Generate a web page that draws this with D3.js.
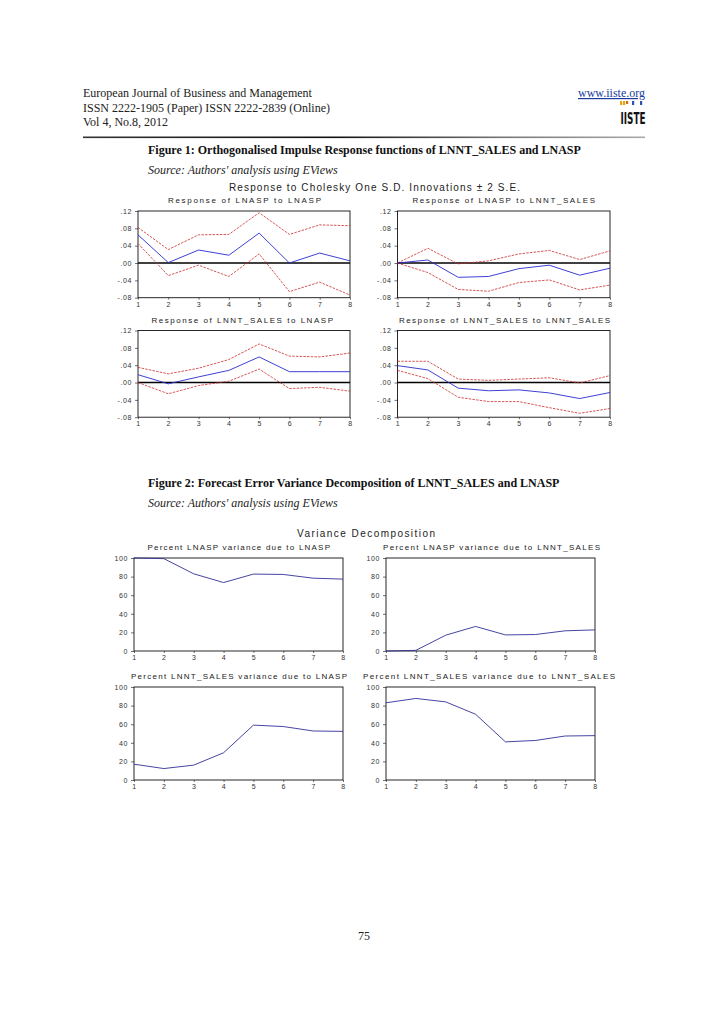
<!DOCTYPE html>
<html><head><meta charset="utf-8">
<script src="https://cdn.jsdelivr.net/npm/d3@7/dist/d3.min.js"></script>
<style>
html,body{margin:0;padding:0;background:#fff;}
svg{display:block;}
</style></head>
<body>
<svg id="page" width="728" height="1030"></svg>
<script>
// ---------- DATA ----------
const periods = [1, 2, 3, 4, 5, 6, 7, 8];

const irfTickValues = [-0.08, -0.04, 0, 0.04, 0.08, 0.12];
const irfTickLabels = ["-.08", "-.04", ".00", ".04", ".08", ".12"];
const vdTickValues = [0, 20, 40, 60, 80, 100];

const irfTitles = [
  "Response of LNASP to LNASP",
  "Response of LNASP to LNNT_SALES",
  "Response of LNNT_SALES to LNASP",
  "Response of LNNT_SALES to LNNT_SALES"
];

// Response of LNASP to LNASP
const aspAspResp  = [0.065, 0.001, 0.030, 0.018, 0.069, 0.000, 0.023, 0.005];
const aspAspUpper = [0.082, 0.031, 0.065, 0.066, 0.116, 0.066, 0.088, 0.086];
const aspAspLower = [0.045, -0.029, -0.005, -0.031, 0.021, -0.066, -0.044, -0.074];
// Response of LNASP to LNNT_SALES
const aspSalesResp  = [0.000, 0.007, -0.033, -0.031, -0.013, -0.005, -0.028, -0.012];
const aspSalesUpper = [0.000, 0.034, -0.002, 0.005, 0.021, 0.029, 0.008, 0.028];
const aspSalesLower = [0.000, -0.022, -0.061, -0.065, -0.045, -0.039, -0.062, -0.051];
// Response of LNNT_SALES to LNASP
const salesAspResp  = [0.018, -0.003, 0.013, 0.028, 0.059, 0.025, 0.025, 0.025];
const salesAspUpper = [0.035, 0.020, 0.033, 0.053, 0.089, 0.061, 0.059, 0.068];
const salesAspLower = [0.000, -0.026, -0.007, 0.003, 0.031, -0.014, -0.011, -0.020];
// Response of LNNT_SALES to LNNT_SALES
const salesSalesResp  = [0.039, 0.029, -0.013, -0.019, -0.017, -0.024, -0.037, -0.023];
const salesSalesUpper = [0.049, 0.049, 0.008, 0.005, 0.008, 0.011, -0.001, 0.016];
const salesSalesLower = [0.028, 0.009, -0.034, -0.044, -0.044, -0.058, -0.071, -0.060];

const vdTitles = [
  "Percent LNASP variance due to LNASP",
  "Percent LNASP variance due to LNNT_SALES",
  "Percent LNNT_SALES variance due to LNASP",
  "Percent LNNT_SALES variance due to LNNT_SALES"
];
const vdAspAsp     = [100, 99.3, 83, 73.6, 82.7, 82.3, 78.3, 77.3];
const vdAspSales   = [0, 0.7, 17, 26.4, 17.3, 17.7, 21.7, 22.7];
const vdSalesAsp   = [17, 12.3, 16, 29.3, 59, 57.5, 52.7, 52.3];
const vdSalesSales = [83, 87.7, 84, 70.7, 41, 42.5, 47.3, 47.7];

const headerLines = [
  "European Journal of Business and Management",
  "ISSN 2222-1905 (Paper) ISSN 2222-2839 (Online)",
  "Vol 4, No.8, 2012"
];

// ---------- DRAWING ----------
const svg = d3.select("#page");
const serif = "'Liberation Serif','Times New Roman',serif";
const sans = "'Liberation Sans',Arial,sans-serif";

// header
svg.selectAll("text.hdr").data(headerLines).join("text")
  .attr("class", "hdr")
  .attr("x", 83).attr("y", (d, i) => 97 + i * 14.5)
  .attr("font-family", serif).attr("font-size", 12).attr("fill", "#222")
  .text(d => d);
svg.append("text").attr("x", 645).attr("y", 97).attr("text-anchor", "end")
  .attr("font-family", serif).attr("font-size", 12).attr("fill", "#1a3c9c")
  .attr("text-decoration", "underline").text("www.iiste.org");

// logo
const logo = svg.append("g").attr("transform", "translate(620,101)");
const logoBars = [["#e8a317", 0, 4], ["#e8a317", 3, 4], ["#d07010", 6, 3], ["#3050b0", 12, 4], ["#3050b0", 20, 4]];
logo.selectAll("rect").data(logoBars).join("rect")
  .attr("x", d => d[1]).attr("y", 0).attr("width", 2.2).attr("height", d => d[2]).attr("fill", d => d[0]);
logo.append("text").attr("x", 13).attr("y", 23).attr("text-anchor", "middle")
  .attr("font-family", "'Liberation Sans Narrow','DejaVu Sans Condensed',sans-serif")
  .attr("font-weight", "bold").attr("font-size", 15).attr("fill", "#111")
  .attr("textLength", 25).attr("lengthAdjust", "spacingAndGlyphs").text("IISTE");

// header rule with gradient
const defs = svg.append("defs");
const grad = defs.append("linearGradient").attr("id", "rule");
grad.append("stop").attr("offset", "0%").attr("stop-color", "#333");
grad.append("stop").attr("offset", "45%").attr("stop-color", "#111");
grad.append("stop").attr("offset", "75%").attr("stop-color", "#777");
grad.append("stop").attr("offset", "100%").attr("stop-color", "#aaa");
svg.append("rect").attr("x", 83).attr("y", 136.5).attr("width", 562).attr("height", 1.6).attr("fill", "url(#rule)");

function figTitle(y, title, source) {
  svg.append("text").attr("x", 148).attr("y", y)
    .attr("font-family", serif).attr("font-weight", "bold").attr("font-size", 12).attr("fill", "#111")
    .text(title);
  svg.append("text").attr("x", 148).attr("y", y + 20)
    .attr("font-family", serif).attr("font-style", "italic").attr("font-size", 12).attr("fill", "#222")
    .text(source);
}
figTitle(154, "Figure 1: Orthogonalised Impulse Response functions of LNNT_SALES and LNASP", "Source: Authors' analysis using EViews");
figTitle(487, "Figure 2: Forecast Error Variance Decomposition of LNNT_SALES and LNASP", "Source: Authors' analysis using EViews");

function centerTitle(y, x0, x1, txt, size) {
  svg.append("text").attr("x", x0).attr("y", y)
    .attr("font-family", sans).attr("font-size", size).attr("fill", "#222")
    .attr("textLength", x1 - x0).attr("lengthAdjust", "spacing").text(txt);
}
centerTitle(191, 229, 520, "Response to Cholesky One S.D. Innovations \u00b1 2 S.E.", 10);
centerTitle(537, 297, 435, "Variance Decomposition", 10);

function panel(cfg) {
  const g = svg.append("g");
  const x = d3.scaleLinear().domain([1, 8]).range([cfg.x0, cfg.x1]);
  const y = d3.scaleLinear().domain(cfg.domain).range([cfg.yb, cfg.yt]);
  // subtitle
  g.append("text").attr("x", cfg.tx0).attr("y", cfg.ty)
    .attr("font-family", sans).attr("font-size", 8).attr("fill", "#222")
    .attr("textLength", cfg.tx1 - cfg.tx0).attr("lengthAdjust", "spacing").text(cfg.title);
  // axes
  const yAxis = d3.axisLeft(y).tickValues(cfg.ticks).tickSize(3).tickPadding(3)
    .tickFormat(cfg.fmt);
  const xAxis = d3.axisBottom(x).tickValues(periods).tickSize(2).tickPadding(2).tickFormat(d3.format("d"));
  const ya = g.append("g").attr("transform", `translate(${cfg.x0},0)`).call(yAxis);
  const xa = g.append("g").attr("transform", `translate(0,${cfg.yb})`).call(xAxis);
  [ya, xa].forEach(a => {
    a.select(".domain").remove();
    a.selectAll("line").attr("stroke", "#333").attr("stroke-width", 0.7);
    a.selectAll("text").attr("font-family", sans).attr("font-size", 7).attr("fill", "#333")
      .attr("letter-spacing", 0.6);
  });
  // frame
  g.append("rect").attr("x", cfg.x0).attr("y", cfg.yt)
    .attr("width", cfg.x1 - cfg.x0).attr("height", cfg.yb - cfg.yt)
    .attr("fill", "none").attr("stroke", "#111").attr("stroke-width", 0.9);
  if (cfg.zero) {
    g.append("line").attr("x1", cfg.x0).attr("x2", cfg.x1)
      .attr("y1", y(0)).attr("y2", y(0)).attr("stroke", "#000").attr("stroke-width", 1.3);
  }
  const line = d3.line().x((d, i) => x(periods[i])).y(d => y(d));
  (cfg.bands || []).forEach(b => {
    g.append("path").datum(b).attr("d", line).attr("fill", "none")
      .attr("stroke", "#cc2a2a").attr("stroke-width", 0.8).attr("stroke-dasharray", "2.5,1.2");
  });
  g.append("path").datum(cfg.series).attr("d", line).attr("fill", "none")
    .attr("stroke", cfg.color).attr("stroke-width", 0.9);
}

const irfFmt = d => irfTickLabels[irfTickValues.indexOf(d)];
const irfDomain = [-0.08, 0.12];
const irfRows = [{yt: 211, yb: 297.7, ty: 203}, {yt: 330.5, yb: 417.2, ty: 323}];
const irfCols = [{x0: 138, x1: 350}, {x0: 397.5, x1: 610}];
const irfTitlePos = [[168, 321], [412.5, 595], [151.5, 333], [399, 610]];
const irfSeries = [
  [aspAspResp, aspAspUpper, aspAspLower],
  [aspSalesResp, aspSalesUpper, aspSalesLower],
  [salesAspResp, salesAspUpper, salesAspLower],
  [salesSalesResp, salesSalesUpper, salesSalesLower]
];
irfSeries.forEach((s, i) => {
  const r = irfRows[Math.floor(i / 2)], c = irfCols[i % 2];
  panel({
    x0: c.x0, x1: c.x1, yt: r.yt, yb: r.yb, domain: irfDomain, ticks: irfTickValues, fmt: irfFmt,
    title: irfTitles[i], tx0: irfTitlePos[i][0], tx1: irfTitlePos[i][1], ty: r.ty,
    zero: true, series: s[0], bands: [s[1], s[2]], color: "#2a2ad0"
  });
});

const vdRows = [{yt: 558, yb: 651, ty: 550}, {yt: 687, yb: 780, ty: 679}];
const vdCols = [{x0: 134, x1: 343}, {x0: 386, x1: 595}];
const vdTitlePos = [[147.5, 330], [383, 600], [131, 347], [363, 615]];
const vdSeries = [vdAspAsp, vdAspSales, vdSalesAsp, vdSalesSales];
vdSeries.forEach((s, i) => {
  const r = vdRows[Math.floor(i / 2)], c = vdCols[i % 2];
  panel({
    x0: c.x0, x1: c.x1, yt: r.yt, yb: r.yb, domain: [0, 100], ticks: vdTickValues, fmt: d3.format("d"),
    title: vdTitles[i], tx0: vdTitlePos[i][0], tx1: vdTitlePos[i][1], ty: r.ty,
    zero: false, series: s, color: "#303098"
  });
});

// page number
svg.append("text").attr("x", 364).attr("y", 940).attr("text-anchor", "middle")
  .attr("font-family", serif).attr("font-size", 12).attr("fill", "#222").text("75");
</script>
</body></html>
